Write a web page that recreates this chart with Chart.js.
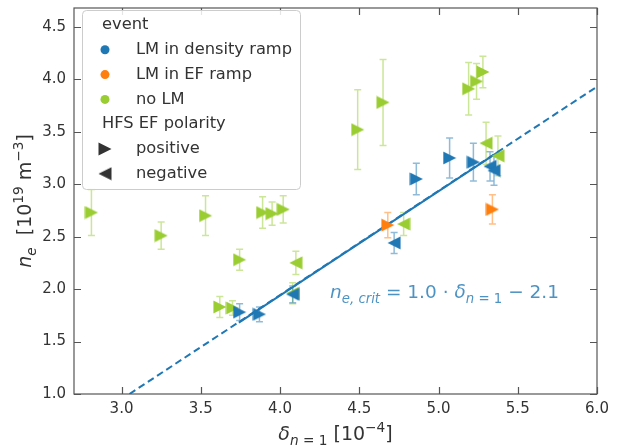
<!DOCTYPE html>
<html>
<head>
<meta charset="utf-8">
<script src="https://cdn.jsdelivr.net/npm/chart.js@4/dist/chart.umd.min.js"></script>
<style>
  html, body { margin: 0; padding: 0; background: #fff; }
  #wrap { width: 632px; height: 448px; position: relative; }
</style>
</head>
<body>
<div id="wrap"><canvas id="chart1"></canvas></div>
<script>
// LM in density ramp
const densityDelta = [3.745, 3.87, 4.08, 4.72, 4.86, 5.07, 5.22, 5.325, 5.35]
const densityNe = [1.78, 1.76, 1.95, 2.44, 3.05, 3.25, 3.21, 3.17, 3.13]
const densityErr = [0.08, 0.07, 0.08, 0.10, 0.15, 0.19, 0.18, 0.14, 0.14]
const densityDir = [1, 1, -1, -1, 1, 1, 1, -1, -1]

// LM in EF ramp
const efDelta = [4.68, 5.34]
const efNe = [2.61, 2.76]
const efErr = [0.12, 0.14]
const efDir = [1, 1]

// no LM
const noLmDelta = [2.81, 3.25, 3.53, 3.62, 3.70, 3.745, 3.89, 3.95, 4.02, 4.08, 4.10, 4.49, 4.65, 4.78, 5.19, 5.24, 5.28, 5.30, 5.375]
const noLmNe = [2.73, 2.51, 2.70, 1.83, 1.82, 2.28, 2.73, 2.72, 2.76, 1.96, 2.25, 3.52, 3.78, 2.62, 3.91, 3.98, 4.07, 3.39, 3.27]
const noLmErr = [0.22, 0.13, 0.19, 0.10, 0.07, 0.10, 0.15, 0.11, 0.13, 0.10, 0.11, 0.38, 0.41, 0.11, 0.25, 0.17, 0.15, 0.20, 0.19]
const noLmDir = [1, 1, 1, 1, 1, 1, 1, 1, 1, -1, -1, 1, 1, -1, 1, 1, 1, -1, -1]

// fit line end points
const fitSolidX = [3.74, 5.38]
const fitSolidY = [1.68, 3.31]
const fitDashX = [3.05, 6.0]
const fitDashY = [1.0, 3.93]

const xTicks = [3.0, 3.5, 4.0, 4.5, 5.0, 5.5, 6.0]
const yTicks = [1.0, 1.5, 2.0, 2.5, 3.0, 3.5, 4.0, 4.5]

const colors = {
    blue: '#1f77b4',
    orange: '#ff7f0e',
    green: '#9acd32',
    text: '#333333',
    spine: '#555555'
}

function makeTri(color) {
    const c = document.createElement('canvas')
    c.width = 14
    c.height = 14
    const g = c.getContext('2d')
    g.fillStyle = color
    g.beginPath()
    g.moveTo(0.5, 0.5)
    g.lineTo(13.5, 7)
    g.lineTo(0.5, 13.5)
    g.closePath()
    g.fill()
    return c
}

function pts(xs, ys) {
    return xs.map((x, i) => ({ x, y: ys[i] }))
}

function markerSet(label, xs, ys, errs, dirs, color, order) {
    return {
        label,
        data: pts(xs, ys),
        errors: errs,
        errColor: color,
        pointStyle: makeTri(color),
        rotation: ctx => dirs[ctx.dataIndex] > 0 ? 0 : 180,
        pointRadius: 7,
        backgroundColor: color,
        borderColor: color,
        order
    }
}

// draws text pieces with italic / sub / sup parts
function mathWidth(ctx, parts, size) {
    let w = 0
    parts.forEach(p => {
        const s = p.sub || p.sup ? size * 0.72 : size
        ctx.font = (p.it ? 'italic ' : '') + s + 'px "DejaVu Sans"'
        w += ctx.measureText(p.t).width
    })
    return w
}

function drawMath(ctx, parts, x, y, size) {
    parts.forEach(p => {
        const s = p.sub || p.sup ? size * 0.72 : size
        ctx.font = (p.it ? 'italic ' : '') + s + 'px "DejaVu Sans"'
        let dy = 0
        if (p.sub) dy = size * 0.25
        if (p.sup) dy = -size * 0.42
        ctx.fillText(p.t, x, y + dy)
        x += ctx.measureText(p.t).width
    })
}

const errorBars = {
    id: 'errorBars',
    beforeDatasetsDraw(chart) {
        const ctx = chart.ctx
        const xs = chart.scales.x, ys = chart.scales.y
        ctx.save()
        chart.data.datasets.slice().sort((a, b) => b.order - a.order).forEach(ds => {
            if (!ds.errors) return
            ctx.strokeStyle = ds.errColor
            ctx.globalAlpha = 0.5
            ctx.lineWidth = 1.5
            ds.data.forEach((p, i) => {
                const px = xs.getPixelForValue(p.x)
                const top = ys.getPixelForValue(p.y + ds.errors[i])
                const bot = ys.getPixelForValue(p.y - ds.errors[i])
                ctx.beginPath()
                ctx.moveTo(px, top); ctx.lineTo(px, bot)
                ctx.moveTo(px - 3.5, top); ctx.lineTo(px + 3.5, top)
                ctx.moveTo(px - 3.5, bot); ctx.lineTo(px + 3.5, bot)
                ctx.stroke()
            })
        })
        ctx.restore()
    }
}

const decorations = {
    id: 'decorations',
    afterDraw(chart) {
        const ctx = chart.ctx
        const a = chart.chartArea
        const xs = chart.scales.x, ys = chart.scales.y
        ctx.save()

        // spines and inward ticks
        ctx.strokeStyle = colors.spine
        ctx.lineWidth = 1.2
        ctx.strokeRect(a.left, a.top, a.right - a.left, a.bottom - a.top)
        ctx.beginPath()
        xTicks.forEach(v => {
            const px = Math.round(xs.getPixelForValue(v)) + 0.5
            ctx.moveTo(px, a.bottom); ctx.lineTo(px, a.bottom - 7)
            ctx.moveTo(px, a.top); ctx.lineTo(px, a.top + 7)
        })
        yTicks.forEach(v => {
            const py = Math.round(ys.getPixelForValue(v)) + 0.5
            ctx.moveTo(a.left, py); ctx.lineTo(a.left + 7, py)
            ctx.moveTo(a.right, py); ctx.lineTo(a.right - 7, py)
        })
        ctx.stroke()

        // fit annotation
        ctx.fillStyle = 'rgba(31,119,180,0.8)'
        ctx.textBaseline = 'alphabetic'
        ctx.textAlign = 'left'
        drawMath(ctx, [
            { t: 'n', it: true }, { t: 'e, crit', it: true, sub: true },
            { t: ' = 1.0 \u00b7 ' }, { t: '\u03b4', it: true },
            { t: 'n', it: true, sub: true }, { t: ' = 1', sub: true },
            { t: ' \u2212 2.1' }
        ], 330, 298, 18.5)

        // axis titles
        ctx.fillStyle = colors.text
        const xt = [
            { t: '\u03b4', it: true }, { t: 'n', it: true, sub: true }, { t: ' = 1', sub: true },
            { t: ' [10' }, { t: '\u22124', sup: true }, { t: ']' }
        ]
        drawMath(ctx, xt, (a.left + a.right) / 2 - mathWidth(ctx, xt, 19) / 2, 440, 19)

        const yt = [
            { t: 'n', it: true }, { t: 'e', it: true, sub: true },
            { t: '  [10' }, { t: '19', sup: true }, { t: ' m' }, { t: '\u22123', sup: true }, { t: ']' }
        ]
        ctx.save()
        ctx.translate(31, (a.top + a.bottom) / 2)
        ctx.rotate(-Math.PI / 2)
        drawMath(ctx, yt, -mathWidth(ctx, yt, 19) / 2, 0, 19)
        ctx.restore()

        // legend
        ctx.fillStyle = 'rgba(255,255,255,0.85)'
        ctx.strokeStyle = '#cccccc'
        ctx.lineWidth = 1
        ctx.beginPath()
        ctx.roundRect(82.5, 10.5, 218, 179, 4)
        ctx.fill()
        ctx.stroke()

        const rows = [
            { t: 'event', head: true },
            { t: 'LM in density ramp', dot: colors.blue },
            { t: 'LM in EF ramp', dot: colors.orange },
            { t: 'no LM', dot: colors.green },
            { t: 'HFS EF polarity', head: true },
            { t: 'positive', tri: 0 },
            { t: 'negative', tri: 180 }
        ]
        const tri = makeTri(colors.text)
        ctx.font = '16.3px "DejaVu Sans"'
        ctx.textBaseline = 'middle'
        rows.forEach((r, i) => {
            const y = 25 + i * 24.8
            ctx.fillStyle = colors.text
            if (r.head) {
                ctx.fillText(r.t, 102, y)
                return
            }
            ctx.fillText(r.t, 136, y)
            if (r.dot) {
                ctx.fillStyle = r.dot
                ctx.beginPath()
                ctx.arc(105, y, 4.5, 0, Math.PI * 2)
                ctx.fill()
            } else {
                ctx.save()
                ctx.translate(105, y)
                ctx.rotate(r.tri * Math.PI / 180)
                ctx.drawImage(tri, -7, -7)
                ctx.restore()
            }
        })
        ctx.restore()
    }
}

const tickFont = { family: '"DejaVu Sans"', size: 15 }

const data = {
    datasets: [
        markerSet('LM in density ramp', densityDelta, densityNe, densityErr, densityDir, colors.blue, 1),
        markerSet('LM in EF ramp', efDelta, efNe, efErr, efDir, colors.orange, 2),
        markerSet('no LM', noLmDelta, noLmNe, noLmErr, noLmDir, colors.green, 3),
        {
            label: 'fit',
            data: pts(fitSolidX, fitSolidY),
            showLine: true,
            borderColor: colors.blue,
            borderWidth: 2,
            pointRadius: 0,
            order: 4
        },
        {
            label: 'fit extension',
            data: pts(fitDashX, fitDashY),
            showLine: true,
            borderColor: colors.blue,
            borderWidth: 2,
            borderDash: [7, 4],
            pointRadius: 0,
            order: 5
        }
    ]
}

const options = {
    responsive: false,
    animation: false,
    layout: { padding: { left: 0, top: 1, right: 35, bottom: 0 } },
    plugins: {
        legend: { display: false },
        tooltip: { enabled: false }
    },
    scales: {
        x: {
            type: 'linear',
            min: 2.7,
            max: 6.0,
            grid: { display: false, drawTicks: false },
            border: { display: false },
            afterBuildTicks: s => { s.ticks = xTicks.map(v => ({ value: v })) },
            afterFit: s => {
                s.height = 54
                s.paddingLeft = 0
                s.paddingRight = 0
            },
            ticks: {
                font: tickFont,
                color: colors.text,
                padding: 6,
                maxRotation: 0,
                callback: v => v.toFixed(1)
            }
        },
        y: {
            type: 'linear',
            min: 1.0,
            max: 4.68,
            grid: { display: false, drawTicks: false },
            border: { display: false },
            afterBuildTicks: s => { s.ticks = yTicks.map(v => ({ value: v })) },
            afterFit: s => {
                s.width = 74
                s.paddingTop = 0
                s.paddingBottom = 0
            },
            ticks: {
                font: tickFont,
                color: colors.text,
                padding: 8,
                callback: v => v.toFixed(1)
            }
        }
    }
}

const canvas = document.getElementById('chart1')
canvas.width = 632
canvas.height = 448
new Chart(canvas, { type: 'scatter', data, options, plugins: [errorBars, decorations] })
</script>
</body>
</html>
